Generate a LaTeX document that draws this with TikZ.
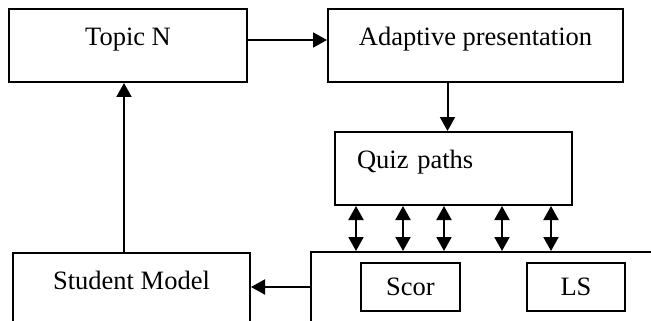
\documentclass[tikz,border=0pt]{standalone}
\usepackage{fontspec}
\setmainfont{Liberation Serif}
\usetikzlibrary{arrows.meta}

\begin{document}
\begin{tikzpicture}[
  x=1pt, y=-1pt,
  font=\fontsize{26.5}{30}\selectfont,
  >={Triangle[length=14pt,width=15pt]},
  blk/.style={draw, line width=2pt, minimum height=73pt, text height=9pt, text depth=9pt, inner sep=0pt},
  small/.style={draw, line width=2pt, minimum height=48pt, inner sep=0pt},
  wire/.style={->, line width=2pt},
  both/.style={<->, line width=2pt}
]
\path[use as bounding box, clip] (0,0) rectangle (651,321);

% upper row
\node[blk, minimum width=238pt] (topic) at (128,45.5) {Topic N};
\node[blk, minimum width=295pt] (adapt) at (475.5,45.5) {Adaptive presentation};

% quiz box, text set to the left
\node[blk, text width=193pt, align=left, inner xsep=22pt] (quiz) at (453.5,168.5) {Quiz paths};

% lower row (runs off the page)
\node[blk, minimum width=237pt] (student) at (131.5,289.5) {Student Model};
\node[draw, line width=2pt, minimum width=400pt, minimum height=120pt] (profile) at (511,312) {};
\node[small, minimum width=99pt] (scor) at (410.5,287) {Scor};
\node[small, minimum width=98pt] (ls) at (576,286.5) {LS};

% connectors
\draw[wire] (topic.east |- 0,40) -- (adapt.west |- 0,40);
\draw[wire] (adapt.south -| 447.5,0) -- (quiz.north -| 447.5,0);
\foreach \x in {356,403,444,502,551}
  \draw[both] (\x,0 |- quiz.south) -- (\x,0 |- profile.north);
\draw[wire] (profile.west |- 0,287) -- (student.east |- 0,287);
\draw[wire] (student.north -| 124,0) -- (topic.south -| 124,0);
\end{tikzpicture}
\end{document}
